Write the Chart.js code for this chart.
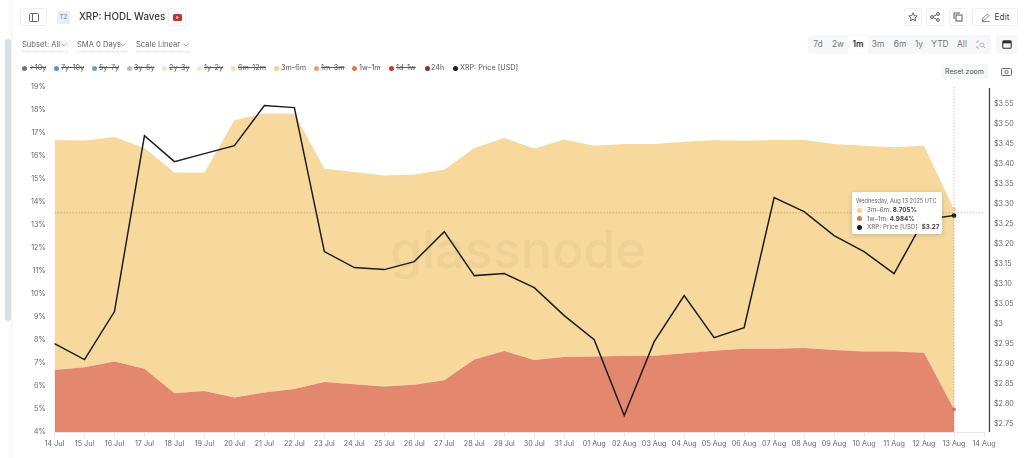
<!DOCTYPE html>
<html><head><meta charset="utf-8">
<script src="https://cdn.jsdelivr.net/npm/chart.js@4"></script>
<style>
html,body{margin:0;padding:0;background:#fff;width:1024px;height:458px;overflow:hidden;font-family:Inter,"Noto Sans",sans-serif;color:#555}
#c{position:absolute;left:0;top:0;width:1024px;height:458px}
.a{position:absolute;white-space:nowrap}
.btn{position:absolute;border:1px solid #f0f0f0;border-radius:3px;box-sizing:border-box;background:#fff;display:flex;align-items:center;justify-content:center}
.ctl{position:absolute;top:40px;height:11px;font-size:7.6px;line-height:10px;color:#666;border-bottom:1px dotted #ddd;white-space:nowrap}
.ctl svg{position:absolute;right:1px;top:3px}
.lg{position:absolute;top:63px;font-size:7.2px;line-height:10px;color:#555;white-space:nowrap}
.lg.off{text-decoration:line-through}
.dot{position:absolute;top:65.5px;width:5px;height:5px;border-radius:50%}
.rng{position:absolute;top:39px;font-size:8.4px;line-height:11px;color:#777;transform:translateX(-50%)}
#tt{position:absolute;background:#fff;border-radius:2px;box-shadow:0 1px 5px rgba(0,0,0,.18);box-sizing:border-box;padding:4px 4px;font-size:6.3px;color:#666;white-space:nowrap;display:none;z-index:5}
#tt .h{font-size:5.6px;line-height:10px;color:#666;margin-bottom:0}
#tt .r{line-height:8.6px;display:flex;align-items:center}
#tt i{display:inline-block;flex:0 0 5px;width:5px;height:5px;border-radius:50%;margin:0 5px 0 1px}
#tt b{color:#444;font-weight:700;margin-left:2px}
</style></head><body>
<canvas id="c" width="1024" height="458"></canvas>

<div class="a" style="left:11px;top:0;width:1px;height:458px;background:#f5f5f5"></div>
<div class="a" style="left:5px;top:39px;width:6px;height:282px;border-radius:3px;background:#d5dfe6"></div>

<div class="btn" style="left:20px;top:8px;width:27px;height:18px"><svg width="10" height="9"><rect x=".5" y=".5" width="9" height="8" rx="1" fill="none" stroke="#666"/><line x1="3.5" y1="1" x2="3.5" y2="8" stroke="#666"/></svg></div>
<div class="a" style="left:57px;top:11px;width:13px;height:13px;background:#e8eef3;border-radius:2px;font-size:6.5px;line-height:13px;text-align:center;color:#5a8ab8">T2</div>
<div class="a" style="left:79px;top:10px;font-size:9.8px;line-height:14px;font-weight:500;color:#3a3a3a">XRP: HODL Waves</div>
<div class="btn" style="left:168px;top:8px;width:18px;height:18px"><svg width="9" height="7"><rect width="9" height="7" rx="1.5" fill="#c8312b"/><path d="M3.5 2L6 3.5L3.5 5Z" fill="#fff"/></svg></div>

<div class="ctl" style="left:22px;width:46px">Subset: All<svg width="6" height="4"><path d="M.5 .5L3 3L5.5 .5" fill="none" stroke="#888" stroke-width=".7"/></svg></div>
<div class="ctl" style="left:77px;width:50px">SMA 0 Days<svg width="6" height="4"><path d="M.5 .5L3 3L5.5 .5" fill="none" stroke="#888" stroke-width=".7"/></svg></div>
<div class="ctl" style="left:136px;width:54px">Scale Linear<svg width="6" height="4"><path d="M.5 .5L3 3L5.5 .5" fill="none" stroke="#888" stroke-width=".7"/></svg></div>

<span class="dot" style="left:22px;background:#6b7280"></span><span class="lg off" style="left:30px">&gt;10y</span>
<span class="dot" style="left:54px;background:#5b93c7"></span><span class="lg off" style="left:61px">7y–10y</span>
<span class="dot" style="left:92px;background:#6f9fc0"></span><span class="lg off" style="left:99px">5y–7y</span>
<span class="dot" style="left:127px;background:#b9bcbf"></span><span class="lg off" style="left:134px">3y–5y</span>
<span class="dot" style="left:162px;background:#f5e3bd"></span><span class="lg off" style="left:169px">2y–3y</span>
<span class="dot" style="left:197px;background:#f9e6bd"></span><span class="lg off" style="left:204px">1y–2y</span>
<span class="dot" style="left:231px;background:#f8dfa9"></span><span class="lg off" style="left:238px">6m–12m</span>
<span class="dot" style="left:274px;background:#f6cf8e"></span><span class="lg" style="left:281px">3m–6m</span>
<span class="dot" style="left:314px;background:#ef9c6e"></span><span class="lg off" style="left:321px">1m–3m</span>
<span class="dot" style="left:352px;background:#df7850"></span><span class="lg" style="left:359px">1w–1m</span>
<span class="dot" style="left:389px;background:#c23b2e"></span><span class="lg off" style="left:396px">1d–1w</span>
<span class="dot" style="left:425px;background:#7e3730"></span><span class="lg" style="left:431px">24h</span>
<span class="dot" style="left:453px;background:#1a1a1a"></span><span class="lg" style="left:460px">XRP: Price [USD]</span>

<div class="btn" style="left:904px;top:8px;width:18px;height:18px"><svg width="10" height="10" viewBox="0 0 10 10"><path d="M5 .8L6.2 3.6L9.2 3.9L7 5.9L7.6 8.9L5 7.3L2.4 8.9L3 5.9L.8 3.9L3.8 3.6Z" fill="none" stroke="#555" stroke-width=".9"/></svg></div>
<div class="btn" style="left:926px;top:8px;width:18px;height:18px"><svg width="10" height="10"><circle cx="2" cy="5" r="1.4" fill="none" stroke="#555"/><circle cx="8" cy="2" r="1.4" fill="none" stroke="#555"/><circle cx="8" cy="8" r="1.4" fill="none" stroke="#555"/><path d="M3.3 4.3L6.7 2.7M3.3 5.7L6.7 7.3" stroke="#555"/></svg></div>
<div class="btn" style="left:949px;top:8px;width:18px;height:18px"><svg width="10" height="10"><path d="M1 7V1H7" fill="none" stroke="#555"/><rect x="3" y="3" width="6" height="6" fill="none" stroke="#555"/></svg></div>
<div class="btn" style="left:972px;top:8px;width:46px;height:18px;font-size:8.4px;color:#444"><svg width="9" height="9" style="margin-right:5px"><path d="M1 8L2 5L6.5 1L8 2.5L3.5 7Z M1 8.5H8.5" fill="none" stroke="#666" stroke-width=".8"/></svg>Edit</div>

<div class="a" style="left:808px;top:35px;width:183px;height:19px;background:#f6f7f8;border-radius:3px"></div>
<div class="a" style="left:848px;top:36px;width:20px;height:17px;background:#fff;border-radius:2px"></div>
<span class="rng" style="left:818px">7d</span><span class="rng" style="left:838px">2w</span>
<span class="rng" style="left:858px;color:#333;font-weight:600">1m</span><span class="rng" style="left:878px">3m</span>
<span class="rng" style="left:900px">6m</span><span class="rng" style="left:919px">1y</span>
<span class="rng" style="left:940px">YTD</span><span class="rng" style="left:962px">All</span>
<svg class="a" style="left:976px;top:40px" width="10" height="9"><path d="M1 3V1H3M1 6V8H3" fill="none" stroke="#999" stroke-width=".7"/><circle cx="6" cy="5" r="2" fill="none" stroke="#999" stroke-width=".7"/><path d="M7.5 6.5L9 8" stroke="#999" stroke-width=".7"/></svg>
<div class="a" style="left:996px;top:35px;width:21px;height:19px;background:#f6f7f8;border-radius:3px"></div>
<svg class="a" style="left:1002px;top:39px" width="10" height="10"><rect x=".8" y="1.8" width="8.4" height="7.4" rx="1" fill="none" stroke="#333" stroke-width="1.1"/><rect x="1" y="2" width="8" height="2.4" fill="#333"/></svg>
<div class="a" style="left:941px;top:64px;width:47px;height:15px;background:#f6f7f8;border-radius:2px;font-size:7px;line-height:15px;text-align:center;color:#555">Reset zoom</div>
<svg class="a" style="left:1001px;top:67px" width="11" height="9"><rect x=".5" y="1.5" width="10" height="7" rx="1" fill="none" stroke="#666"/><circle cx="5.5" cy="5" r="1.7" fill="none" stroke="#666"/></svg>

<div id="tt"></div>

<script>
const dates = ["14 Jul","15 Jul","16 Jul","17 Jul","18 Jul","19 Jul","20 Jul","21 Jul","22 Jul","23 Jul","24 Jul","25 Jul","26 Jul","27 Jul","28 Jul","29 Jul","30 Jul","31 Jul","01 Aug","02 Aug","03 Aug","04 Aug","05 Aug","06 Aug","07 Aug","08 Aug","09 Aug","10 Aug","11 Aug","12 Aug","13 Aug","14 Aug"];
const band1w1m = [6.70,6.82,7.07,6.75,5.68,5.78,5.50,5.72,5.87,6.17,6.08,5.98,6.05,6.25,7.15,7.52,7.13,7.26,7.28,7.30,7.32,7.42,7.53,7.62,7.62,7.65,7.57,7.50,7.50,7.45,4.984];
const band3m6m = [10.00,9.85,9.76,9.60,9.60,9.49,12.05,12.13,11.98,9.28,9.22,9.17,9.15,9.15,9.20,9.26,9.20,9.46,9.17,9.22,9.20,9.20,9.17,9.04,9.08,9.05,8.95,8.95,8.88,9.00,8.705];
const priceUsd = [2.95,2.91,3.03,3.47,3.405,3.425,3.445,3.545,3.54,3.18,3.14,3.135,3.155,3.23,3.12,3.125,3.09,3.02,2.96,2.77,2.955,3.07,2.965,2.99,3.315,3.28,3.22,3.18,3.125,3.26,3.27];
const percentTicks = [4,5,6,7,8,9,10,11,12,13,14,15,16,17,18,19];
const priceTicks = [2.75,2.8,2.85,2.9,2.95,3,3.05,3.1,3.15,3.2,3.25,3.3,3.35,3.4,3.45,3.5,3.55];
const crosshairPercent = 13.53;
const tooltipTitle = "Wednesday, Aug 13 2025 UTC";

const lastIdx = priceUsd.length - 1;
const onlyLast = r => c => c.dataIndex === lastIdx ? r : 0;
const tickFont = {family:"Inter",size:7.2};

const overlay = {
  id:'overlay',
  afterDatasetsDraw(ch){
    const g = ch.ctx;
    g.save();
    g.font = "500 52px Inter";
    g.fillStyle = "rgba(120,110,90,0.07)";
    g.textAlign = "center"; g.textBaseline = "middle";
    g.fillText("glassnode",518,252);
    g.restore();
  },
  afterDraw(ch){
    const g = ch.ctx, a = ch.chartArea, x = ch.scales.x, yL = ch.scales.y, yR = ch.scales.y1;
    g.save();
    g.strokeStyle = "#444"; g.lineWidth = 1.3;
    g.beginPath(); g.moveTo(yR.left+5.5,a.top+1); g.lineTo(yR.left+5.5,a.bottom); g.stroke();
    g.strokeStyle = "rgba(110,100,80,.55)"; g.lineWidth = .7; g.setLineDash([1.5,1.5]);
    const cy = yL.getPixelForValue(crosshairPercent);
    g.beginPath(); g.moveTo(a.left,cy); g.lineTo(a.right,cy); g.stroke();
    g.strokeStyle = "rgba(120,120,120,.6)";
    const cx = x.getPixelForValue(lastIdx);
    g.beginPath(); g.moveTo(cx,a.top); g.lineTo(cx,a.bottom); g.stroke();
    g.restore();
  }
};

function externalTip({chart,tooltip}){
  const el = document.getElementById('tt');
  if(!tooltip.dataPoints || !tooltip.dataPoints.length){el.style.display='none';return;}
  const rows = [
    ["3m–6m",band3m6m[lastIdx].toFixed(3)+"%","#f6cf8e"],
    ["1w–1m",band1w1m[lastIdx].toFixed(3)+"%","#d9775a"],
    ["XRP: Price [USD]","$"+priceUsd[lastIdx].toFixed(2),"#1a1a1a"]
  ];
  el.innerHTML = '<div class="h">'+tooltipTitle+'</div>'+rows.map(r=>'<div class="r"><i style="background:'+r[2]+'"></i>'+r[0]+':<b>'+r[1]+'</b></div>').join('');
  el.style.display='block';
  const px = chart.scales.x.getPixelForValue(lastIdx);
  el.style.left=(px-102)+'px';
  el.style.top='192px';
  el.style.width='90px';
  el.style.height='42px';
}

const chart = new Chart(document.getElementById('c'),{
  type:'line',
  data:{labels:dates,datasets:[
    {label:'1w–1m',data:band1w1m,yAxisID:'y',stack:'w',fill:'origin',order:2,backgroundColor:'#e3886f',borderWidth:0,borderColor:'#e3886f',tension:0,
     pointRadius:onlyLast(1.8),pointBackgroundColor:'#df6f55',pointBorderWidth:0,pointHoverRadius:onlyLast(1.8)},
    {label:'3m–6m',data:band3m6m,yAxisID:'y',stack:'w',fill:'-1',order:3,backgroundColor:'#f7d99d',borderWidth:0,borderColor:'#f7d99d',tension:0,
     pointRadius:onlyLast(1.8),pointBackgroundColor:'#f6cf8e',pointBorderWidth:0,pointHoverRadius:onlyLast(1.8)},
    {label:'XRP: Price [USD]',data:priceUsd,yAxisID:'y1',fill:false,order:1,borderColor:'#1c1c1c',borderWidth:1.5,tension:0,
     pointRadius:onlyLast(2.3),pointBackgroundColor:'#1c1c1c',pointBorderWidth:0,pointHoverRadius:onlyLast(2.3)}
  ]},
  options:{
    responsive:false,animation:false,
    events:[],
    layout:{padding:{left:0,right:0,top:87,bottom:0}},
    plugins:{legend:{display:false},tooltip:{enabled:false,external:externalTip}},
    scales:{
      x:{type:'category',offset:false,
         grid:{display:true,drawOnChartArea:false,drawTicks:true,tickLength:5,color:'#e6e6e6'},
         border:{color:'#e6e6e6'},
         ticks:{maxRotation:0,autoSkip:false,font:tickFont,color:'#666',padding:3},
         afterFit(s){s.height=458-432;}},
      y:{stacked:true,position:'left',min:4,max:19,
         grid:{display:false},border:{display:false},
         afterBuildTicks(s){s.ticks=percentTicks.map(v=>({value:v}));},
         ticks:{font:tickFont,color:'#666',padding:1,callback:v=>v+'%'},
         afterFit(s){s.width=54.5;}},
      y1:{stacked:false,position:'right',min:2.729,max:3.5915,
         grid:{display:false},border:{display:false},
         afterBuildTicks(s){s.ticks=priceTicks.map(v=>({value:v}));},
         ticks:{font:tickFont,color:'#666',padding:2,callback:v=>'$'+(Math.abs(v-3)<1e-9?'3':v.toFixed(2))},
         afterFit(s){s.width=40;}}
    }
  },
  plugins:[overlay]
});
const act=[0,1,2].map(d=>({datasetIndex:d,index:lastIdx}));
chart.tooltip.setActiveElements(act,{x:954,y:212});
chart.update();
</script>
</body></html>
